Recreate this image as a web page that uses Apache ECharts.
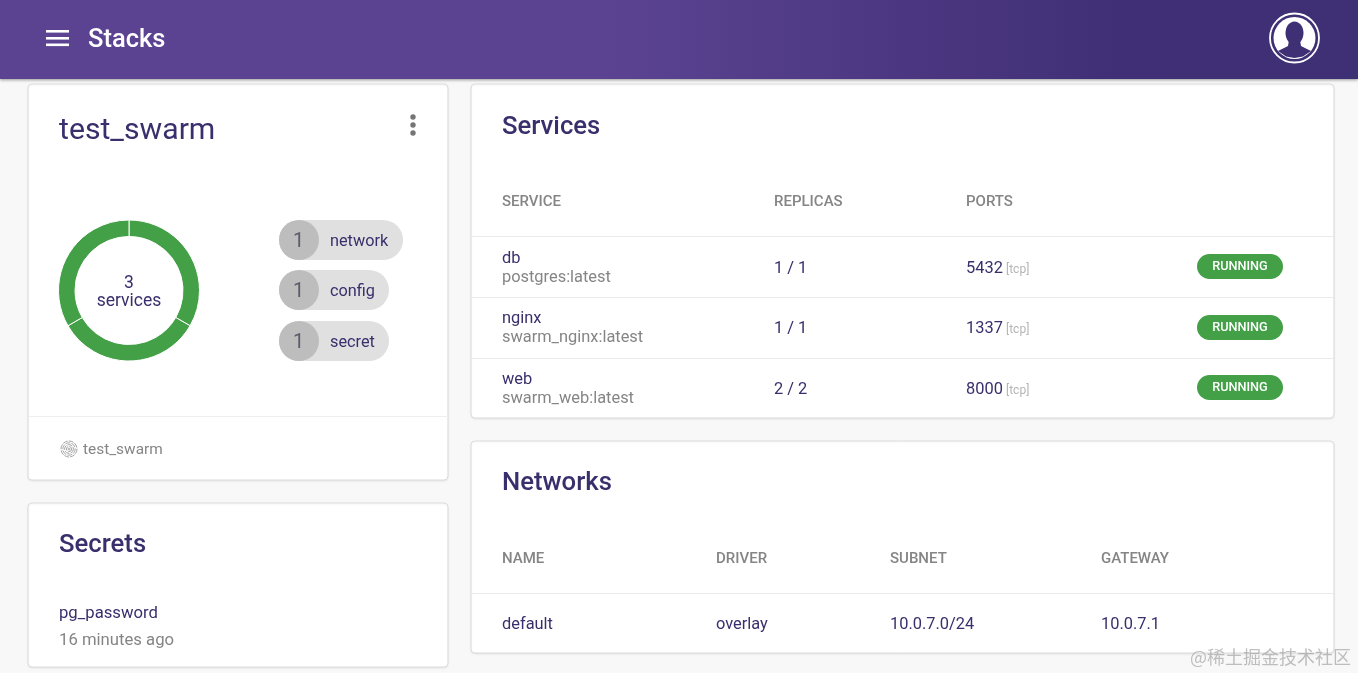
<!DOCTYPE html>
<html>
<head>
<meta charset="utf-8">
<title>Stacks</title>
<script src="https://cdn.jsdelivr.net/npm/echarts@6/dist/echarts.min.js"></script>
<style>
html, body { margin: 0; padding: 0; background: #f8f8f8; }
#main { width: 1358px; height: 673px; }
</style>
</head>
<body>
<div id="main"></div>
<script>
const pageTitle = "Stacks";
const stackName = "test_swarm";
const serviceNames = ["db", "nginx", "web"];
const serviceImages = ["postgres:latest", "swarm_nginx:latest", "swarm_web:latest"];
const serviceReplicas = ["1 / 1", "1 / 1", "2 / 2"];
const servicePorts = ["5432", "1337", "8000"];
const serviceSlices = [1, 1, 1];
const chipCounts = ["1", "1", "1"];
const chipLabels = ["network", "config", "secret"];
const serviceHeaders = ["SERVICE", "REPLICAS", "PORTS"];
const networkHeaders = ["NAME", "DRIVER", "SUBNET", "GATEWAY"];
const networkRow = ["default", "overlay", "10.0.7.0/24", "10.0.7.1"];

const INK = "#392f6c";
const GREY = "#858585";
const GREEN = "#43a047";
const FONT = "Roboto";

function text(x, y, str, size, color, weight, align, family) {
	return {
		type: "text",
		x: x,
		y: y + 2,
		silent: true,
		style: {
			text: str,
			fill: color,
			fontFamily: family || FONT,
			fontSize: size,
			fontWeight: weight || 400,
			align: align || "left",
			verticalAlign: "middle",
		},
	};
}

function rect(x, y, w, h, fill, r, extra) {
	return {
		type: "rect",
		silent: true,
		shape: { x: x, y: y, width: w, height: h, r: r || 0 },
		style: Object.assign({ fill: fill }, extra || {}),
	};
}

function card(x, y, w, h) {
	return rect(x, y, w, h, "#fff", 4, {
		stroke: "#dcdcdc",
		lineWidth: 1,
		shadowBlur: 2,
		shadowColor: "rgba(0,0,0,0.06)",
		shadowOffsetY: 1,
	});
}

const els = [];

// 顶栏
els.push(rect(0, 0, 1358, 79, {
	type: "linear", x: 0, y: 0, x2: 1, y2: 0,
	colorStops: [
		{ offset: 0, color: "#5b4391" },
		{ offset: 0.45, color: "#5b4391" },
		{ offset: 0.82, color: "#402f76" },
		{ offset: 1, color: "#3f2f75" },
	],
}, 0, { shadowBlur: 3, shadowColor: "rgba(0,0,0,0.4)", shadowOffsetY: 1 }));
[30, 37, 43.5].forEach(function(y) {
	els.push(rect(46, y, 23, 2.6, "#fff"));
});
els.push(text(88, 39, pageTitle, 25.5, "#fff", 500));

// 头像
els.push({ type: "circle", silent: true, shape: { cx: 1294.5, cy: 38, r: 24.5 }, style: { fill: "none", stroke: "#fff", lineWidth: 1.8 } });
els.push({ type: "circle", silent: true, shape: { cx: 1294.5, cy: 38, r: 21 }, style: { fill: "#fff" } });
els.push({ type: "ellipse", silent: true, shape: { cx: 1294.5, cy: 33, rx: 9, ry: 11.5 }, style: { fill: "#3f2f75" } });
els.push({
	type: "polygon", silent: true,
	shape: { points: [[1289, 40], [1300, 40], [1301, 46], [1311, 51], [1303, 56.5], [1294.5, 58], [1286, 56.5], [1278, 51], [1288, 46]] },
	style: { fill: "#3f2f75" },
});

// 卡片
els.push(card(28, 84, 420, 396));
els.push(card(28, 503, 420, 164));
els.push(card(471, 84, 863, 334));
els.push(card(471, 441, 863, 212));

// 左上卡片
els.push(text(59, 129, stackName, 30.2, INK));
[117, 125, 133].forEach(function(y) {
	els.push({ type: "circle", silent: true, shape: { cx: 413, cy: y, r: 2.7 }, style: { fill: "#757575" } });
});
els.push(text(129, 282, String(serviceNames.length), 17.5, INK, 400, "center"));
els.push(text(129, 300, "services", 17.5, INK, 400, "center"));

const chipTops = [220, 270, 321];
const chipWidths = [124, 110, 110];
chipLabels.forEach(function(label, i) {
	const top = chipTops[i];
	els.push(rect(279, top, chipWidths[i], 40, "#e0e0e0", 20));
	els.push({ type: "circle", silent: true, shape: { cx: 299, cy: top + 20, r: 20 }, style: { fill: "#bdbdbd" } });
	els.push(text(298.5, top + 20, chipCounts[i], 20, "#5c5c6c", 400, "center"));
	els.push(text(330, top + 20, label, 16.3, INK));
});

els.push(rect(29, 416, 419, 1, "#efefef"));
[8, 6.2, 4.4, 2.6, 0.9].forEach(function(r) {
	els.push({ type: "circle", silent: true, shape: { cx: 69, cy: 449, r: r }, style: { fill: "none", stroke: "#9a9a9a", lineWidth: 0.9, lineDash: [5, 1.2] } });
});
els.push(text(83, 448, stackName, 15.4, GREY));

// Secrets
els.push(text(59, 544, "Secrets", 25.7, INK, 500));
els.push(text(59, 612, "pg_password", 16.7, INK));
els.push(text(59, 639, "16 minutes ago", 16.7, GREY));

// Services
const serviceCols = [502, 774, 966];
els.push(text(502, 126, "Services", 25.7, INK, 500));
serviceHeaders.forEach(function(h, i) {
	els.push(text(serviceCols[i], 200, h, 15, GREY, 500));
});
[236, 297, 358].forEach(function(y) {
	els.push(rect(472, y, 862, 1, "#eaeaea"));
});
const rowTops = [236, 296.3, 357];
const badgeTops = [254, 315, 375];
serviceNames.forEach(function(name, i) {
	const top = rowTops[i];
	els.push(text(502, top + 21, name, 16.4, INK));
	els.push(text(502, top + 40, serviceImages[i], 16.4, GREY));
	els.push(text(774, top + 31, serviceReplicas[i], 16.4, INK));
	els.push(text(966, top + 31, servicePorts[i], 16.4, INK));
	els.push(text(1006, top + 32, "[tcp]", 12, "#b5b5b5"));
	els.push(rect(1197, badgeTops[i], 86, 25, GREEN, 12.5));
	els.push(text(1240, badgeTops[i] + 11, "RUNNING", 12.7, "#fff", 500, "center"));
});

// Networks
const networkCols = [502, 716, 890, 1101];
els.push(text(502, 482, "Networks", 25.7, INK, 500));
networkHeaders.forEach(function(h, i) {
	els.push(text(networkCols[i], 557, h, 15, GREY, 500));
});
els.push(rect(472, 593, 862, 1, "#eaeaea"));
networkRow.forEach(function(v, i) {
	els.push(text(networkCols[i], 623, v, 16.4, INK));
});

// 水印
els.push(text(1351, 655, "@稀土掘金技术社区", 18, "rgba(150,150,150,0.6)", 400, "right", "Noto Sans CJK SC"));

const chart = echarts.init(document.getElementById("main"), null, { renderer: "canvas" });
chart.setOption({
	animation: false,
	backgroundColor: "#f8f8f8",
	graphic: { elements: els },
	series: [
		{
			type: "pie",
			z: 10,
			silent: true,
			center: [129, 290.5],
			radius: [54, 70.5],
			startAngle: 90,
			label: { show: false },
			labelLine: { show: false },
			itemStyle: { color: GREEN, borderColor: "#fff", borderWidth: 1 },
			data: serviceNames.map(function(name, i) {
				return { name: name, value: serviceSlices[i] };
			}),
		},
	],
});
</script>
</body>
</html>
